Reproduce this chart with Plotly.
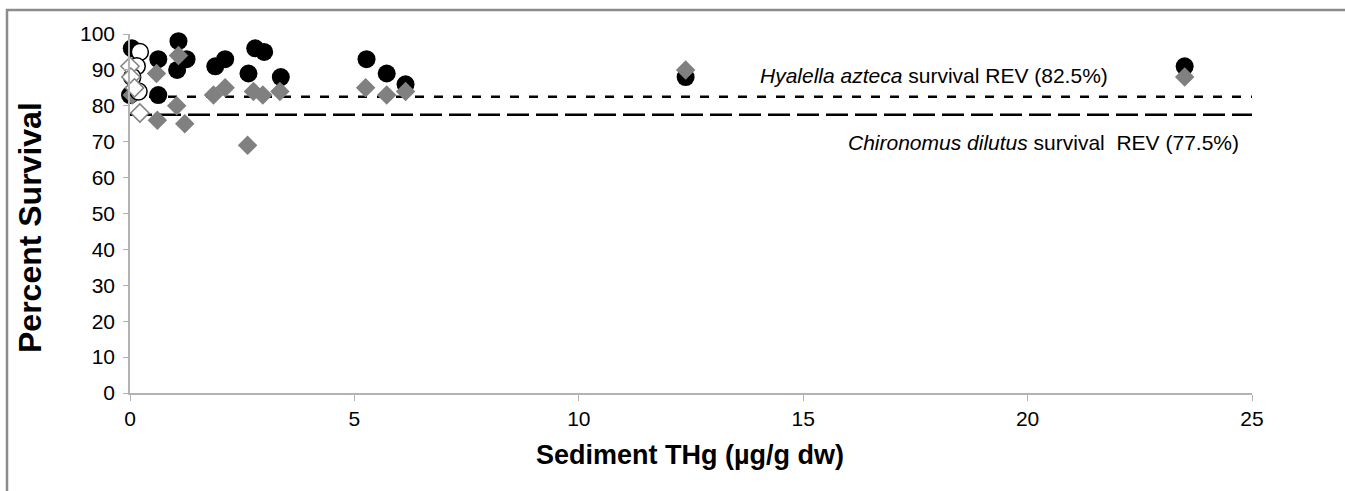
import plotly.graph_objects as go

# Sediment total mercury (µg/g dw) and percent survival per sample
hyalella_thg = [0.04, 0.0, 0.63, 0.63, 1.05, 1.08, 1.26, 1.9, 2.12, 2.64, 2.79, 2.99, 3.36, 5.27, 5.72, 6.14, 12.38, 23.5]
hyalella_surv = [96, 83, 93, 83, 90, 98, 93, 91, 93, 89, 96, 95, 88, 93, 89, 86, 88, 91]

chironomus_thg = [0.05, 0.59, 0.61, 1.04, 1.08, 1.22, 1.86, 2.12, 2.62, 2.75, 2.96, 3.34, 5.25, 5.72, 6.14, 12.38, 23.5]
chironomus_surv = [83, 89, 76, 80, 94, 75, 83, 85, 69, 84, 83, 84, 85, 83, 84, 90, 88]

# Reference-site samples (open symbols)
hyalella_ref_thg = [0.22, 0.15, 0.05, 0.19]
hyalella_ref_surv = [95, 91, 88, 84]
chironomus_ref_thg = [0.0, 0.02, 0.22, 0.1]
chironomus_ref_surv = [91, 88, 78, 85]

# Reference envelope values (REV)
rev_x = [0, 25]
hyalella_rev = 82.5
chironomus_rev = 77.5

x_ticks = [0, 5, 10, 15, 20, 25]
y_ticks = [0, 10, 20, 30, 40, 50, 60, 70, 80, 90, 100]

FONT = "Arial, Liberation Sans, sans-serif"

# plot-area geometry in pixels, used to place the frame and titles
L, R, T, B = 130, 93, 34, 98
W, H = 1345, 491
PW, PH = W - L - R, H - T - B


def px_x(px):
    return (px - L) / PW


def px_y(py):
    return (H - B - py) / PH


fig = go.Figure()

fig.add_trace(go.Scatter(x=rev_x, y=[hyalella_rev] * 2, mode="lines",
                         line=dict(color="black", width=2.5, dash="9px,10px"),
                         hoverinfo="skip"))
fig.add_trace(go.Scatter(x=rev_x, y=[chironomus_rev] * 2, mode="lines",
                         line=dict(color="black", width=2.5, dash="22px,7px"),
                         hoverinfo="skip"))

fig.add_trace(go.Scatter(x=hyalella_thg, y=hyalella_surv, mode="markers",
                         cliponaxis=False,
                         marker=dict(symbol="circle", size=18, color="black",
                                     line=dict(width=0))))
fig.add_trace(go.Scatter(x=chironomus_thg, y=chironomus_surv, mode="markers",
                         cliponaxis=False,
                         marker=dict(symbol="diamond", size=15, color="#808080",
                                     line=dict(width=0))))
fig.add_trace(go.Scatter(x=hyalella_ref_thg, y=hyalella_ref_surv, mode="markers",
                         cliponaxis=False,
                         marker=dict(symbol="circle", size=17, color="white",
                                     line=dict(width=1.5, color="black"))))
fig.add_trace(go.Scatter(x=chironomus_ref_thg, y=chironomus_ref_surv, mode="markers",
                         cliponaxis=False,
                         marker=dict(symbol="diamond", size=14, color="white",
                                     line=dict(width=1.5, color="#808080"))))

axis_common = dict(showgrid=False, zeroline=False, showline=True,
                   linecolor="#b3b3b3", linewidth=1.5, ticks="outside",
                   tickcolor="#b3b3b3",
                   tickfont=dict(size=21, family=FONT, color="black"))

# chart-area frame: left and top edges only (the rest lies beyond the page)
frame_path = "M {x0} {yb} L {x0} {yt} L {xr} {yt}".format(
    x0=px_x(7), yb=px_y(H + 4), yt=px_y(10), xr=px_x(W + 4))

fig.update_layout(
    width=W, height=H, autosize=False,
    margin=dict(l=L, r=R, t=T, b=B),
    paper_bgcolor="white", plot_bgcolor="white",
    showlegend=False,
    font=dict(family=FONT, color="black"),
    xaxis=dict(range=[0, 25], tickvals=x_ticks, ticklen=6, **axis_common),
    yaxis=dict(range=[0, 100], tickvals=y_ticks, ticklen=5,
               ticklabelstandoff=4, **axis_common),
    annotations=[
        dict(text="<b>Sediment THg (µg/g dw)</b>", xref="paper", yref="paper",
             x=px_x(690), y=px_y(455), xanchor="center", yanchor="middle",
             showarrow=False, font=dict(size=27, family=FONT)),
        dict(text="<b>Percent Survival</b>", xref="paper", yref="paper",
             x=px_x(30), y=px_y(228), textangle=-90,
             xanchor="center", yanchor="middle",
             showarrow=False, font=dict(size=32, family=FONT)),
        dict(text="<i>Hyalella azteca</i> survival REV (82.5%)",
             xref="paper", yref="paper", x=px_x(934), y=px_y(75),
             xanchor="center", yanchor="middle",
             showarrow=False, font=dict(size=21, family=FONT)),
        dict(text="<i>Chironomus dilutus</i> survival  REV (77.5%)",
             xref="paper", yref="paper", x=px_x(1043), y=px_y(142),
             xanchor="center", yanchor="middle",
             showarrow=False, font=dict(size=21, family=FONT)),
    ],
    shapes=[
        dict(type="path", xref="paper", yref="paper", path=frame_path,
             line=dict(color="#8c8c8c", width=2.5)),
    ],
)

fig.write_html("out.html", config={"displayModeBar": False})
